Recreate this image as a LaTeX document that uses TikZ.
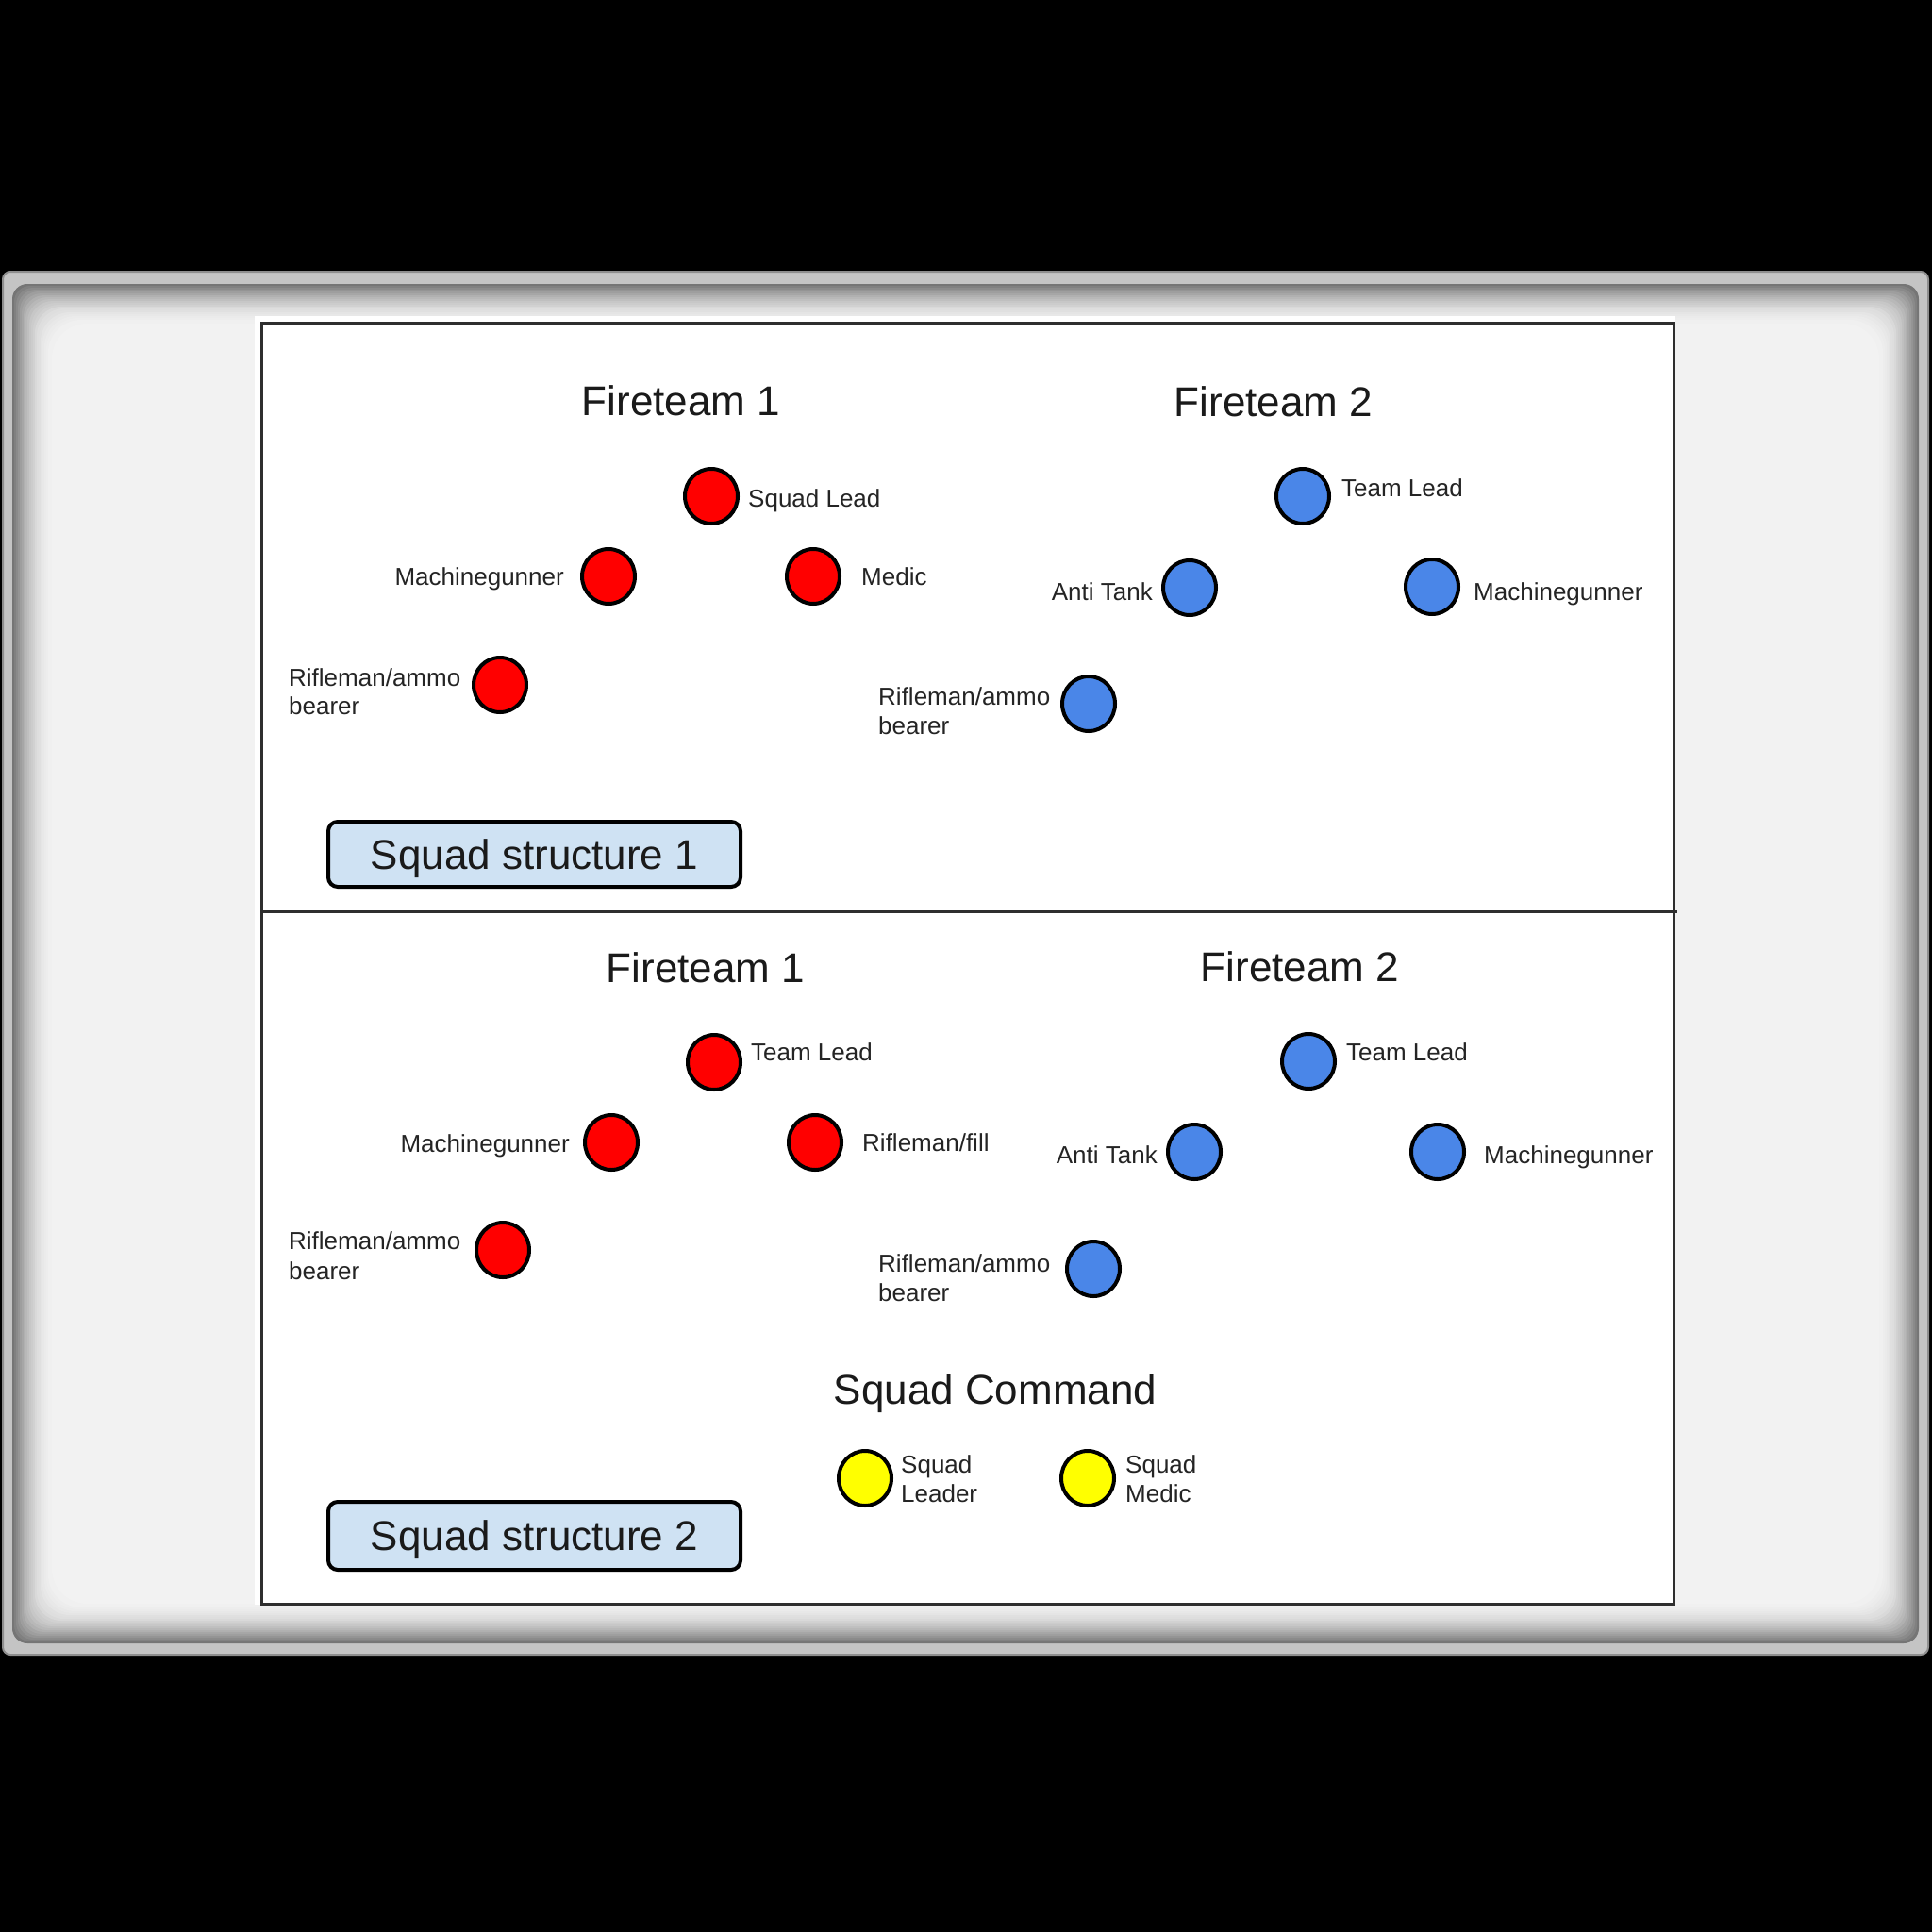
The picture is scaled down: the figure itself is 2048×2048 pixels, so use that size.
\documentclass[tikz,border=0pt]{standalone}
\usepackage{fontspec}
\setmainfont{Liberation Sans}
\usetikzlibrary{shapes.geometric}
\definecolor{redm}{HTML}{FF0000}
\definecolor{bluem}{HTML}{4A86E8}
\definecolor{yellm}{HTML}{FFFF00}
\definecolor{boxblue}{HTML}{CFE2F3}
\definecolor{lblc}{HTML}{242424}
\definecolor{ttlc}{HTML}{1A1A1A}
\definecolor{framec}{HTML}{C4C4C4}
\definecolor{frameedge}{HTML}{8E8E8E}
\definecolor{panelline}{HTML}{2E2E2E}
\tikzset{
  member/.style={ellipse, draw=black, line width=4pt, minimum width=56pt, minimum height=58pt, inner sep=0pt},
  rmem/.style={member, fill=redm},
  bmem/.style={member, fill=bluem},
  ymem/.style={member, fill=yellm},
  lbl/.style={inner sep=0pt, text=lblc, font=\fontsize{26}{31}\selectfont},
  ttl/.style={inner sep=0pt, text=ttlc, font=\fontsize{44}{52}\selectfont, anchor=base},
  sbox/.style={draw=black, line width=4pt, fill=boxblue, rounded corners=10pt, minimum width=437pt, minimum height=69pt, text height=31.5pt, text depth=0pt, inner sep=0pt, font=\fontsize{44}{52}\selectfont, text=ttlc},
}
\begin{document}
\begin{tikzpicture}[x=1pt, y=-1pt]
\useasboundingbox (0,0) rectangle (2048,2048);
% background and frame
\fill[black] (0,0) rectangle (2048,2048);
\filldraw[fill=framec, draw=frameedge, line width=2pt, rounded corners=8pt] (3,288) rectangle (2044,1754);
\foreach \i in {0,...,22}{
  \pgfmathtruncatemacro\w{46+49.3*(1-(1-\i/22)^2)}
  \pgfmathsetmacro\r{16+\i}
  \fill[white!\w!black, rounded corners=\r pt] (13+2*\i, 301+2*\i) rectangle (2034-2*\i, 1742-2*\i);
}
% white panel
\fill[white] (270,335) rectangle (1776,1701);
\draw[panelline, line width=3pt] (277.5,342.5) rectangle (1774.5,1700);
\draw[panelline, line width=3pt] (277.5,966) -- (1778,966);

% ---- Squad structure 1 ----
\node[ttl] (ft1a) at (722,440) {Fireteam 1};
\node[ttl] (ft2a) at (1350,441) {Fireteam 2};

\node[rmem] (a1) at (754,526) {};
\node[lbl, anchor=base west] (a1l) at (793,537) {Squad Lead};
\node[rmem] (a2) at (645,611) {};
\node[lbl, anchor=base east] (a2l) at (598,620) {Machinegunner};
\node[rmem] (a3) at (862,611) {};
\node[lbl, anchor=base west] (a3l) at (913,620) {Medic};
\node[rmem] (a4) at (530,726) {};
\node[lbl, anchor=base west] (a4l) at (306,727) {Rifleman/ammo};
\node[lbl, anchor=base west] (a4m) at (306,757) {bearer};

\node[bmem] (b1) at (1381,526) {};
\node[lbl, anchor=base west] (b1l) at (1422,526) {Team Lead};
\node[bmem] (b2) at (1261,623) {};
\node[lbl, anchor=base east] (b2l) at (1222,636) {Anti Tank};
\node[bmem] (b3) at (1518,622) {};
\node[lbl, anchor=base west] (b3l) at (1562,636) {Machinegunner};
\node[bmem] (b4) at (1154,746) {};
\node[lbl, anchor=base west] (b4l) at (931,747) {Rifleman/ammo};
\node[lbl, anchor=base west] (b4m) at (931,778) {bearer};

\node[sbox] (s1) at (566.5,905.5) {Squad structure 1};

% ---- Squad structure 2 ----
\node[ttl] (ft1b) at (748,1041) {Fireteam 1};
\node[ttl] (ft2b) at (1378,1040) {Fireteam 2};

\node[rmem] (c1) at (757,1126) {};
\node[lbl, anchor=base west] (c1l) at (796,1124) {Team Lead};
\node[rmem] (c2) at (648,1211) {};
\node[lbl, anchor=base east] (c2l) at (604,1221) {Machinegunner};
\node[rmem] (c3) at (864,1211) {};
\node[lbl, anchor=base west] (c3l) at (914,1220) {Rifleman/fill};
\node[rmem] (c4) at (533,1325) {};
\node[lbl, anchor=base west] (c4l) at (306,1324) {Rifleman/ammo};
\node[lbl, anchor=base west] (c4m) at (306,1356) {bearer};

\node[bmem] (d1) at (1387,1125) {};
\node[lbl, anchor=base west] (d1l) at (1427,1124) {Team Lead};
\node[bmem] (d2) at (1266,1221) {};
\node[lbl, anchor=base east] (d2l) at (1227,1233) {Anti Tank};
\node[bmem] (d3) at (1524,1221) {};
\node[lbl, anchor=base west] (d3l) at (1573,1233) {Machinegunner};
\node[bmem] (d4) at (1159,1345) {};
\node[lbl, anchor=base west] (d4l) at (931,1348) {Rifleman/ammo};
\node[lbl, anchor=base west] (d4m) at (931,1379) {bearer};

\node[ttl] (sc) at (1055,1488) {Squad Command};
\node[ymem] (e1) at (917,1567) {};
\node[lbl, anchor=base west] (e1l) at (955,1561) {Squad};
\node[lbl, anchor=base west] (e1m) at (955,1592) {Leader};
\node[ymem] (e2) at (1153,1567) {};
\node[lbl, anchor=base west] (e2l) at (1193,1561) {Squad};
\node[lbl, anchor=base west] (e2m) at (1193,1592) {Medic};

\node[sbox, minimum height=72pt] (s2) at (566.5,1628) {Squad structure 2};
\end{tikzpicture}
\end{document}
